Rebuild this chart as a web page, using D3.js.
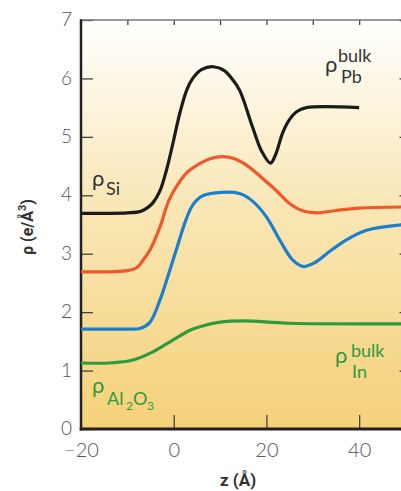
<!DOCTYPE html>
<html>
<head>
<meta charset="utf-8">
<script src="https://cdn.jsdelivr.net/npm/d3@7"></script>
<style>
  html, body { margin: 0; padding: 0; background: #fff; }
  svg { display: block; }
</style>
</head>
<body>
<svg id="chart" width="401" height="491"></svg>
<script>
// Electron density profiles across the interface, rho(z)
const zSi   = [-20, -10, -7.3, -5.8, -4.5, -3, -1.5, 0, 1.3, 2.8, 4.1, 6, 8.5, 11, 12.5, 14.2, 17, 19, 20.9, 22, 23.5, 25, 26.5, 28.6, 40];
const rhoSi = [3.69, 3.7, 3.72, 3.78, 3.87, 4.07, 4.45, 4.95, 5.4, 5.8, 6.0, 6.15, 6.2, 6.13, 6.0, 5.8, 5.17, 4.75, 4.55, 4.7, 5.07, 5.3, 5.43, 5.5, 5.5];

const zRed   = [-20, -10, -8, -6.5, -5, -3, -1, 1, 3, 6, 8, 10.5, 13, 16, 19, 22, 25, 28, 31, 35, 40, 50];
const rhoRed = [2.69, 2.71, 2.76, 2.9, 3.08, 3.45, 3.92, 4.2, 4.4, 4.56, 4.63, 4.66, 4.63, 4.5, 4.3, 4.09, 3.86, 3.73, 3.7, 3.74, 3.78, 3.8];

const zBlue   = [-20, -10, -7.3, -5.2, -3, -1, 1, 2.5, 4, 6, 9, 14.2, 17, 20, 22.9, 25.7, 28, 30.5, 33, 36.5, 41.6, 50];
const rhoBlue = [1.71, 1.71, 1.72, 1.82, 2.2, 2.68, 3.18, 3.55, 3.82, 3.98, 4.04, 4.03, 3.9, 3.63, 3.23, 2.89, 2.78, 2.85, 3.0, 3.2, 3.4, 3.5];

const zGreen   = [-20, -13.8, -8.8, -4.5, -0.2, 3.5, 6, 10, 15, 25, 50];
const rhoGreen = [1.13, 1.13, 1.18, 1.32, 1.52, 1.69, 1.76, 1.83, 1.85, 1.81, 1.8];

const yTicks = [0, 1, 2, 3, 4, 5, 6, 7];
const xTicks = [-20, 0, 20, 40];
const xTopTicks = [-10, 0, 10, 20, 30, 40];

const svg = d3.select("#chart");
const plotL = 81, plotR = 405.5, plotT = 20, plotB = 429;

const x = d3.scaleLinear().domain([-20, 50]).range([plotL, plotR]);
const y = d3.scaleLinear().domain([0, 7]).range([plotB, plotT]);

// background gradient of the plotting area
const defs = svg.append("defs");
const grad = defs.append("linearGradient").attr("id", "bg")
  .attr("x1", 0).attr("y1", 0).attr("x2", 0).attr("y2", 1);
grad.append("stop").attr("offset", "0%").attr("stop-color", "#ffffff");
grad.append("stop").attr("offset", "45%").attr("stop-color", "#f9e7b6");
grad.append("stop").attr("offset", "100%").attr("stop-color", "#f5d179");

svg.append("rect")
  .attr("x", plotL).attr("y", plotT)
  .attr("width", plotR - plotL).attr("height", plotB - plotT)
  .attr("fill", "url(#bg)");

// tick marks pointing inward
const tickCol = "#444";
svg.append("g").attr("transform", `translate(${plotL},0)`)
  .call(d3.axisRight(y).tickValues(yTicks).tickSize(12).tickFormat(""))
  .call(g => g.select(".domain").remove())
  .call(g => g.selectAll("line").attr("stroke", tickCol).attr("stroke-width", 1.3));
svg.append("g").attr("transform", `translate(${plotR},0)`)
  .call(d3.axisLeft(y).tickValues(yTicks).tickSize(6).tickFormat(""))
  .call(g => g.select(".domain").remove())
  .call(g => g.selectAll("line").attr("stroke", tickCol).attr("stroke-width", 1.3));
svg.append("g").attr("transform", `translate(0,${plotT})`)
  .call(d3.axisBottom(x).tickValues(xTopTicks).tickSize(5).tickFormat(""))
  .call(g => g.select(".domain").remove())
  .call(g => g.selectAll("line").attr("stroke", tickCol).attr("stroke-width", 1.3));
svg.append("g").attr("transform", `translate(0,${plotB})`)
  .call(d3.axisTop(x).tickValues([0, 20, 40]).tickSize(14).tickFormat(""))
  .call(g => g.select(".domain").remove())
  .call(g => g.selectAll("line").attr("stroke", tickCol).attr("stroke-width", 1.3));

// tick labels
const labelFont = "Lato, 'Open Sans', sans-serif";
svg.append("g").attr("transform", `translate(${plotL - 9},0)`)
  .call(d3.axisLeft(y).tickValues(yTicks).tickSize(0).tickPadding(0).tickFormat(d3.format("d")))
  .call(g => g.select(".domain").remove())
  .call(g => g.selectAll("text").attr("fill", "#555").attr("font-size", 19)
    .attr("font-weight", 300).attr("font-family", labelFont).attr("dy", "0.3em"));
svg.append("g").attr("transform", `translate(0,${plotB + 13.5})`)
  .call(d3.axisBottom(x).tickValues(xTicks).tickSize(0).tickPadding(0)
    .tickFormat(d => d < 0 ? "\u2212" + Math.abs(d) : d))
  .call(g => g.select(".domain").remove())
  .call(g => g.selectAll("text").attr("fill", "#555").attr("font-size", 20)
    .attr("font-weight", 300).attr("font-family", labelFont).attr("dy", "0.71em"));

// frame
svg.append("line").attr("x1", plotL).attr("x2", plotR).attr("y1", plotT).attr("y2", plotT)
  .attr("stroke", "#777").attr("stroke-width", 1.5);
svg.append("line").attr("x1", plotL).attr("x2", plotL).attr("y1", plotT - 0.75).attr("y2", plotB + 1.5)
  .attr("stroke", "#222").attr("stroke-width", 2.5);
svg.append("line").attr("x1", plotL - 1.25).attr("x2", plotR).attr("y1", plotB).attr("y2", plotB)
  .attr("stroke", "#222").attr("stroke-width", 3);

// density curves
const line = d3.line().x(d => x(d[0])).y(d => y(d[1])).curve(d3.curveCatmullRom.alpha(0.5));
const series = [
  { z: zGreen, r: rhoGreen, color: "#2f9a3e" },
  { z: zBlue,  r: rhoBlue,  color: "#1a7fcd" },
  { z: zRed,   r: rhoRed,   color: "#f0572a" },
  { z: zSi,    r: rhoSi,    color: "#1b1b1b" }
];
const clip = defs.append("clipPath").attr("id", "plotclip");
clip.append("rect").attr("x", plotL).attr("y", plotT).attr("width", plotR - plotL).attr("height", plotB - plotT);
svg.append("g").attr("clip-path", "url(#plotclip)")
  .selectAll("path").data(series).join("path")
  .attr("d", s => line(s.z.map((v, i) => [v, s.r[i]])))
  .attr("fill", "none")
  .attr("stroke", s => s.color)
  .attr("stroke-width", 3.2)
  .attr("stroke-linejoin", "round");

// curve annotations: rho with optional superscript and subscript pieces
function rhoLabel(px, py, color, pieces) {
  const g = svg.append("g").attr("fill", color).attr("font-family", labelFont);
  g.append("text").attr("x", px).attr("y", py).attr("font-size", 22).text("\u03c1");
  pieces.forEach(p => {
    g.append("text").attr("x", px + p.dx).attr("y", py + p.dy)
      .attr("font-size", p.size).text(p.text);
  });
}
rhoLabel(92, 186, "#333", [{ text: "Si", dx: 14, dy: 9, size: 18 }]);
rhoLabel(325, 72, "#333", [
  { text: "bulk", dx: 13, dy: -10, size: 18 },
  { text: "Pb", dx: 16, dy: 11, size: 18 }
]);
rhoLabel(335, 363, "#2f9a3e", [
  { text: "bulk", dx: 16, dy: -6, size: 18 },
  { text: "In", dx: 17, dy: 15, size: 18 }
]);
rhoLabel(92, 393, "#2f9a3e", [
  { text: "Al", dx: 15, dy: 12, size: 18 },
  { text: "2", dx: 34, dy: 17, size: 12 },
  { text: "O", dx: 41, dy: 12, size: 18 },
  { text: "3", dx: 55, dy: 17, size: 12 }
]);

// axis titles
const yTitle = svg.append("text")
  .attr("transform", "translate(33,227) rotate(-90)")
  .attr("text-anchor", "middle")
  .attr("fill", "#333").attr("font-family", "Roboto, Arial, sans-serif")
  .attr("font-weight", "bold").attr("font-size", 16);
yTitle.append("tspan").text("\u03c1 (e/\u00c5");
yTitle.append("tspan").attr("font-size", 11).attr("dy", -7).text("3");
yTitle.append("tspan").attr("dy", 7).text(")");
svg.append("text")
  .attr("x", 238).attr("y", 486).attr("text-anchor", "middle")
  .attr("fill", "#333").attr("font-family", "Roboto, Arial, sans-serif")
  .attr("font-weight", "bold").attr("font-size", 17)
  .text("z (\u00c5)");
</script>
</body>
</html>
